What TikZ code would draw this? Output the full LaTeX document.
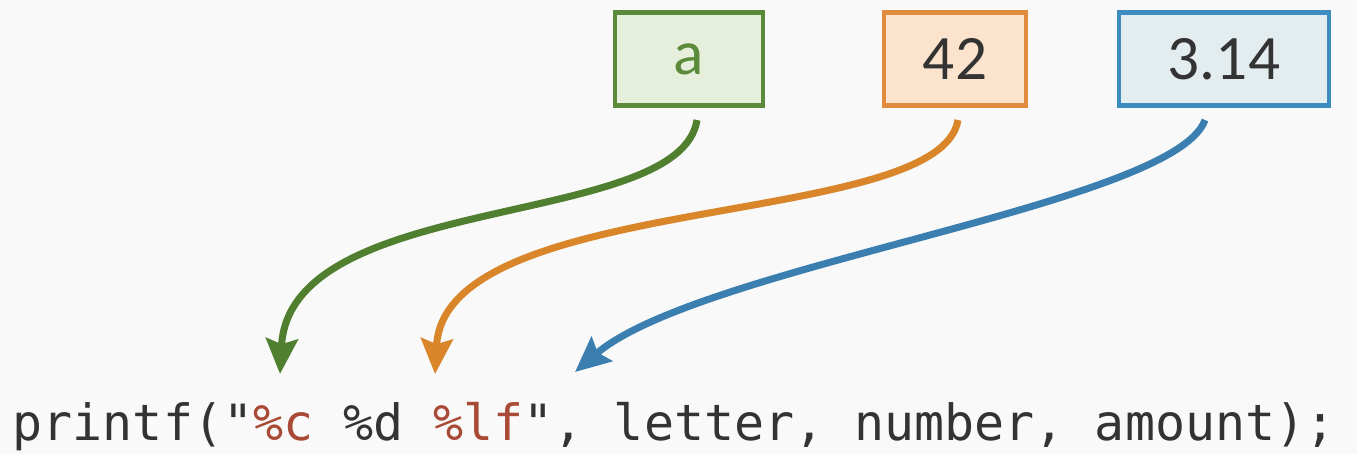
\documentclass[tikz,border=0pt]{standalone}
\usepackage{fontspec}
\usepackage{xcolor}
\usepackage{tikz}
\usetikzlibrary{arrows.meta}
\setmainfont{Carlito}
\newfontfamily\codefont{DejaVu Sans Mono}
\definecolor{bggray}{HTML}{F9F9F9}
\definecolor{textgray}{HTML}{333333}
\definecolor{fmtred}{HTML}{A84A35}
\definecolor{grnline}{HTML}{5B8A3A}
\definecolor{grnfill}{HTML}{E6EEDC}
\definecolor{orgline}{HTML}{E08B3E}
\definecolor{orgfill}{HTML}{FCE3CD}
\definecolor{bluline}{HTML}{3C8CBF}
\definecolor{blufill}{HTML}{E3ECEF}
\definecolor{grnarrow}{HTML}{4F7F2F}
\definecolor{orgarrow}{HTML}{D9852A}
\definecolor{bluarrow}{HTML}{3A7FB0}

\begin{document}
\begin{tikzpicture}[x=0.01cm,y=-0.01cm,
  valbox/.style={draw,line width=1.2pt,minimum height=0.93cm,inner sep=0pt,
    font=\fontsize{18}{21}\selectfont,text=textgray},
  link/.style={line width=2pt,-{Stealth[length=10pt,width=9pt,inset=1.5pt]}}]
%背景
\fill[bggray] (0,0) rectangle (1357,454);
\useasboundingbox (0,0) rectangle (1357,454);

%三个值
\node[valbox,draw=grnline,fill=grnfill,text=grnline,minimum width=1.48cm] (va) at (689,59) {a};
\node[valbox,draw=orgline,fill=orgfill,minimum width=1.42cm] (vnum) at (955,59) {42};
\node[valbox,draw=bluline,fill=blufill,minimum width=2.1cm] (vamt) at (1224,59) {3.14};

%printf 这一行
\node[anchor=base west,inner sep=0pt,text=textgray,font=\codefont\fontsize{14.2}{17}\selectfont] (code) at (12,440)
  {printf("\textcolor{fmtred}{\%c} \%d \textcolor{fmtred}{\%lf}", letter, number, amount);};

%箭头的起点和终点
\coordinate (a-out) at (697,120);
\coordinate (a-in) at (280,374);
\coordinate (num-out) at (958,120);
\coordinate (num-in) at (435,374);
\coordinate (amt-out) at (1205,120);
\coordinate (amt-in) at (575,372);

%值连到格式符
\draw[link,grnarrow] (a-out) .. controls (680,230) and (290,190) .. (a-in);
\draw[link,orgarrow] (num-out) .. controls (940,230) and (445,190) .. (num-in);
\draw[link,bluarrow] (amt-out) .. controls (1175,205) and (700,265) .. (amt-in);
\end{tikzpicture}
\end{document}
